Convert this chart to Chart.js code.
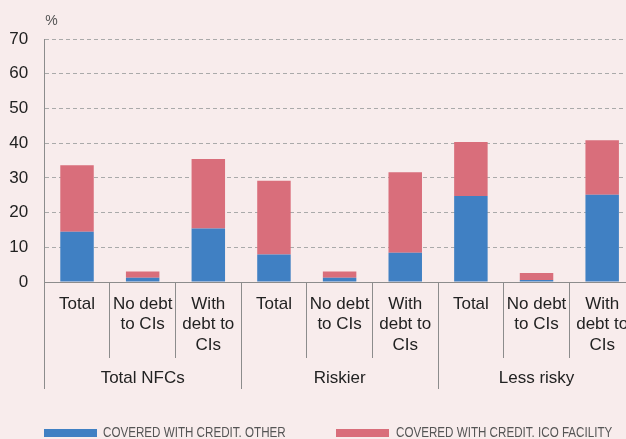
<!DOCTYPE html>
<html>
<head>
<meta charset="utf-8">
<script src="https://cdn.jsdelivr.net/npm/chart.js@4.4.0/dist/chart.umd.min.js"></script>
<style>
  html, body { margin: 0; padding: 0; background: #f8ecec; overflow: hidden; }
  #wrap { position: relative; width: 626px; height: 439px; overflow: hidden; }
  #myBarChart { position: absolute; left: 0; top: 0; }
  .key { position: absolute; top: 425px; font: 14px "Liberation Sans", Arial, sans-serif; color: #555; line-height: 14px; white-space: nowrap; transform: scaleX(0.83); transform-origin: 0 0; }
  .swatch { position: absolute; top: 429px; width: 53px; height: 8px; }
</style>
</head>
<body>
<div id="wrap">
  <canvas id="myBarChart" width="640" height="439"></canvas>
  <span class="swatch" style="left:44px;background:#4080c3"></span>
  <span class="key" style="left:103px">COVERED WITH CREDIT. OTHER</span>
  <span class="swatch" style="left:336px;background:#d96e7b"></span>
  <span class="key" style="left:396px">COVERED WITH CREDIT. ICO FACILITY</span>
</div>
<script>
/*declare chart data*/
const categories = [
  'Total', ['No debt', 'to CIs'], ['With', 'debt to', 'CIs'],
  'Total', ['No debt', 'to CIs'], ['With', 'debt to', 'CIs'],
  'Total', ['No debt', 'to CIs'], ['With', 'debt to', 'CIs'],
];
const groups = ['Total NFCs', 'Riskier', 'Less risky'];
const otherCredit = [14.5, 1.2, 15.4, 7.9, 1.2, 8.4, 24.8, 0.6, 25.1];
const icoFacility = [19.1, 1.8, 20.0, 21.3, 1.8, 23.2, 15.5, 2.0, 15.7];
const yMin = 0;
const yMax = 70;
const yStep = 10;

const axisGrey = '#8c8c8c';
const textDark = '#222';

/*small plugin for the % unit above the axis*/
const percentLabel = {
  id: 'percentLabel',
  afterDraw(chart) {
    const {ctx, chartArea} = chart;
    ctx.save();
    ctx.font = '14px "Liberation Sans", Arial, sans-serif';
    ctx.fillStyle = '#555';
    ctx.textAlign = 'left';
    ctx.textBaseline = 'alphabetic';
    ctx.fillText('%', chartArea.left + 1, 25);
    ctx.restore();
  }
};

const data = {
  labels: categories,
  datasets: [{
    label: 'COVERED WITH CREDIT. OTHER',
    backgroundColor: '#4080c3',
    data: otherCredit,
  }, {
    label: 'COVERED WITH CREDIT. ICO FACILITY',
    backgroundColor: '#d96e7b',
    data: icoFacility,
  }]
};

/*wire the options together*/
const barConfig = {
  type: 'bar',
  data: data,
  plugins: [percentLabel],
  options: {
    responsive: false,
    animation: false,
    layout: { padding: { top: 39, right: 5, bottom: 50, left: 0 } },
    datasets: { bar: { categoryPercentage: 1, barPercentage: 0.51 } },
    plugins: {
      legend: { display: false },
      tooltip: { enabled: false }
    },
    scales: {
      x: {
        stacked: true,
        offset: true,
        grid: { offset: true, drawOnChartArea: false, tickLength: 76, color: axisGrey, tickColor: axisGrey },
        border: { color: axisGrey, width: 1 },
        ticks: {
          autoSkip: false, maxRotation: 0, minRotation: 0, padding: -64,
          color: textDark, font: { family: '"Liberation Sans", Arial, sans-serif', size: 17, lineHeight: 1.2 }
        },
        afterFit: (scale) => { scale.height = 75; }
      },
      x2: {
        type: 'category',
        position: 'bottom',
        weight: 10,
        labels: groups,
        offset: true,
        grid: { offset: true, drawOnChartArea: false, tickLength: 32, color: axisGrey, tickColor: axisGrey },
        border: { display: false },
        ticks: {
          autoSkip: false, maxRotation: 0, minRotation: 0, padding: -21,
          color: textDark, font: { family: '"Liberation Sans", Arial, sans-serif', size: 17, lineHeight: 1.2 }
        },
        afterFit: (scale) => { scale.height = 32; }
      },
      y: {
        stacked: true,
        min: yMin,
        max: yMax,
        grid: {
          drawTicks: false,
          color: (ctx) => ctx.tick && ctx.tick.value === 0 ? 'rgba(0,0,0,0)' : '#aaaaaa'
        },
        border: { color: axisGrey, width: 1, dash: [4, 3] },
        ticks: {
          stepSize: yStep, padding: 16,
          color: textDark, font: { family: '"Liberation Sans", Arial, sans-serif', size: 17 }
        },
        afterFit: (scale) => { scale.width = 44.2; }
      }
    }
  },
};

/*create chart*/
var myBarChart = new Chart(
  document.getElementById('myBarChart'),
  barConfig
);
</script>
</body>
</html>
